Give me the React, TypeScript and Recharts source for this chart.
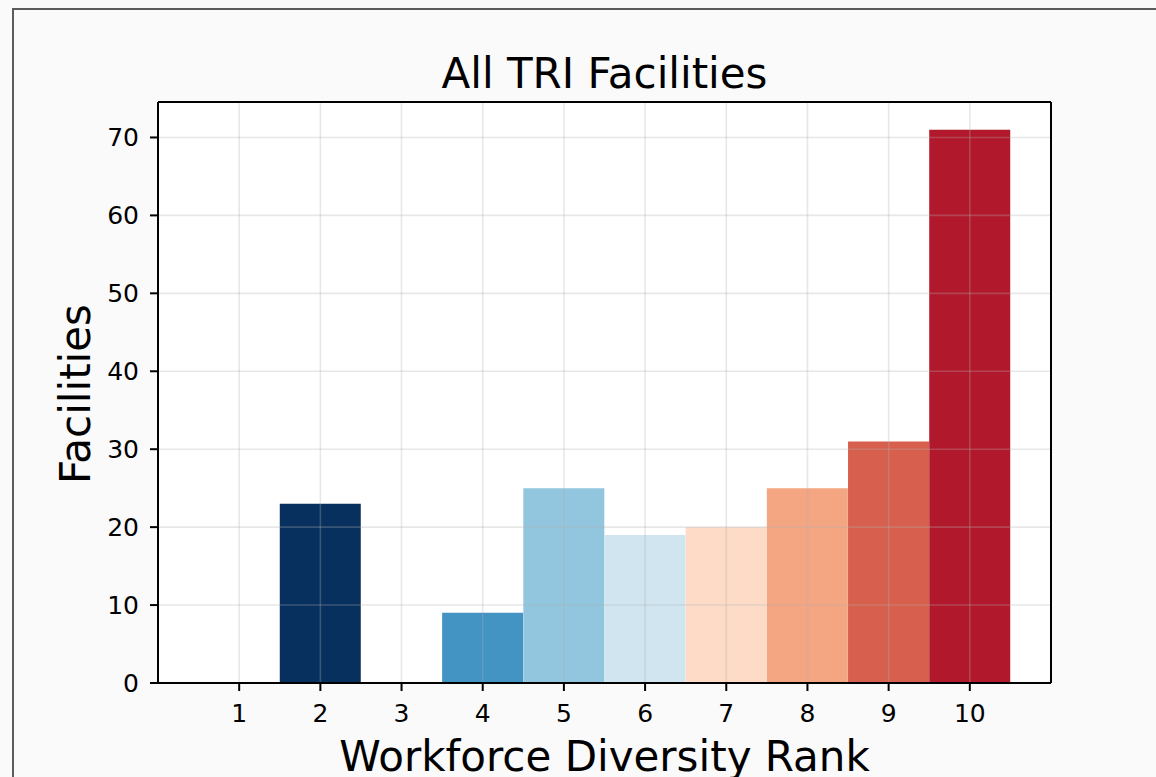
import { BarChart, Bar, Cell, XAxis, YAxis, ReferenceLine } from "recharts";

const RANKS = [1, 2, 3, 4, 5, 6, 7, 8, 9, 10];
const FACILITIES = [0, 23, 0, 9, 25, 19, 20, 25, 31, 71];
const Y_TICKS = [0, 10, 20, 30, 40, 50, 60, 70];

// RdBu_r-style colour per rank
const BAR_COLORS = [
  "#67001f",
  "#08305e",
  "#2166ac",
  "#4393c3",
  "#92c5de",
  "#d1e5f0",
  "#fddbc7",
  "#f4a582",
  "#d6604d",
  "#b2182b",
];

const FONT = "'DejaVu Sans', sans-serif";
const GRID = "#b0b0b0";
const PLOT = { left: 158, top: 102, right: 1051, bottom: 683 };
// half a category of empty space on both sides of the bars
const HALF_BAND = (PLOT.right - PLOT.left) / (RANKS.length + 1) / 2;
const Y_AXIS_W = 60;
const X_AXIS_H = 60;

const tickStyle = { fontSize: 25, fill: "#000", fontFamily: FONT };

export default function App() {
  const data = RANKS.map((rank, i) => ({ rank, facilities: FACILITIES[i] }));

  return (
    <div
      style={{
        position: "absolute",
        left: 0,
        top: 0,
        width: 1156,
        height: 777,
        background: "#fafafa",
        overflow: "hidden",
      }}
    >
      <div
        style={{
          position: "absolute",
          left: 12,
          top: 8,
          width: 1300,
          height: 900,
          borderLeft: "2px solid #5c5c5c",
          borderTop: "2px solid #5c5c5c",
        }}
      />
      <div
        style={{
          position: "absolute",
          left: PLOT.left,
          top: PLOT.top,
          width: PLOT.right - PLOT.left,
          height: PLOT.bottom - PLOT.top,
          background: "#fff",
        }}
      />
      <div style={{ position: "absolute", left: 0, top: 0 }}>
        <BarChart
          width={1156}
          height={777}
          data={data}
          margin={{
            top: PLOT.top - 1,
            right: 1156 - PLOT.right - 1,
            bottom: 777 - PLOT.bottom - X_AXIS_H,
            left: PLOT.left - Y_AXIS_W,
          }}
          barCategoryGap={0}
          barGap={0}
        >
          <XAxis
            dataKey="rank"
            height={X_AXIS_H}
            padding={{ left: HALF_BAND, right: HALF_BAND }}
            tick={tickStyle}
            tickSize={8}
            tickMargin={13}
            tickLine={{ stroke: "#000", strokeWidth: 2 }}
            axisLine={{ stroke: "#000", strokeWidth: 2 }}
            interval={0}
          />
          <XAxis
            xAxisId="top"
            orientation="top"
            dataKey="rank"
            height={1}
            padding={{ left: HALF_BAND, right: HALF_BAND }}
            tick={false}
            tickLine={false}
            axisLine={{ stroke: "#000", strokeWidth: 2 }}
          />
          <YAxis
            width={Y_AXIS_W}
            domain={[0, (dataMax: number) => dataMax * 1.05]}
            ticks={Y_TICKS}
            tick={tickStyle}
            tickSize={8}
            tickMargin={11}
            tickLine={{ stroke: "#000", strokeWidth: 2 }}
            axisLine={{ stroke: "#000", strokeWidth: 2 }}
          />
          <YAxis
            yAxisId="right"
            orientation="right"
            width={1}
            domain={[0, 1]}
            tick={false}
            tickLine={false}
            axisLine={{ stroke: "#000", strokeWidth: 2 }}
          />
          <Bar dataKey="facilities" isAnimationActive={false}>
            {data.map((d, i) => (
              <Cell key={d.rank} fill={BAR_COLORS[i]} />
            ))}
          </Bar>
          {RANKS.map((r) => (
            <ReferenceLine key={"x" + r} x={r} stroke={GRID} strokeOpacity={0.3} strokeWidth={1.6} />
          ))}
          {Y_TICKS.map((v) => (
            <ReferenceLine key={"y" + v} y={v} stroke={GRID} strokeOpacity={0.3} strokeWidth={1.6} />
          ))}
        </BarChart>
      </div>
      <svg
        width={1156}
        height={777}
        style={{ position: "absolute", left: 0, top: 0, pointerEvents: "none" }}
        fontFamily={FONT}
      >
        <text x={604.5} y={88} textAnchor="middle" fontSize={42} fill="#000">
          All TRI Facilities
        </text>
        <text x={604.5} y={771} textAnchor="middle" fontSize={42} fill="#000">
          Workforce Diversity Rank
        </text>
        <text
          x={90}
          y={394}
          textAnchor="middle"
          fontSize={42}
          fill="#000"
          transform="rotate(-90 90 394)"
        >
          Facilities
        </text>
      </svg>
    </div>
  );
}
